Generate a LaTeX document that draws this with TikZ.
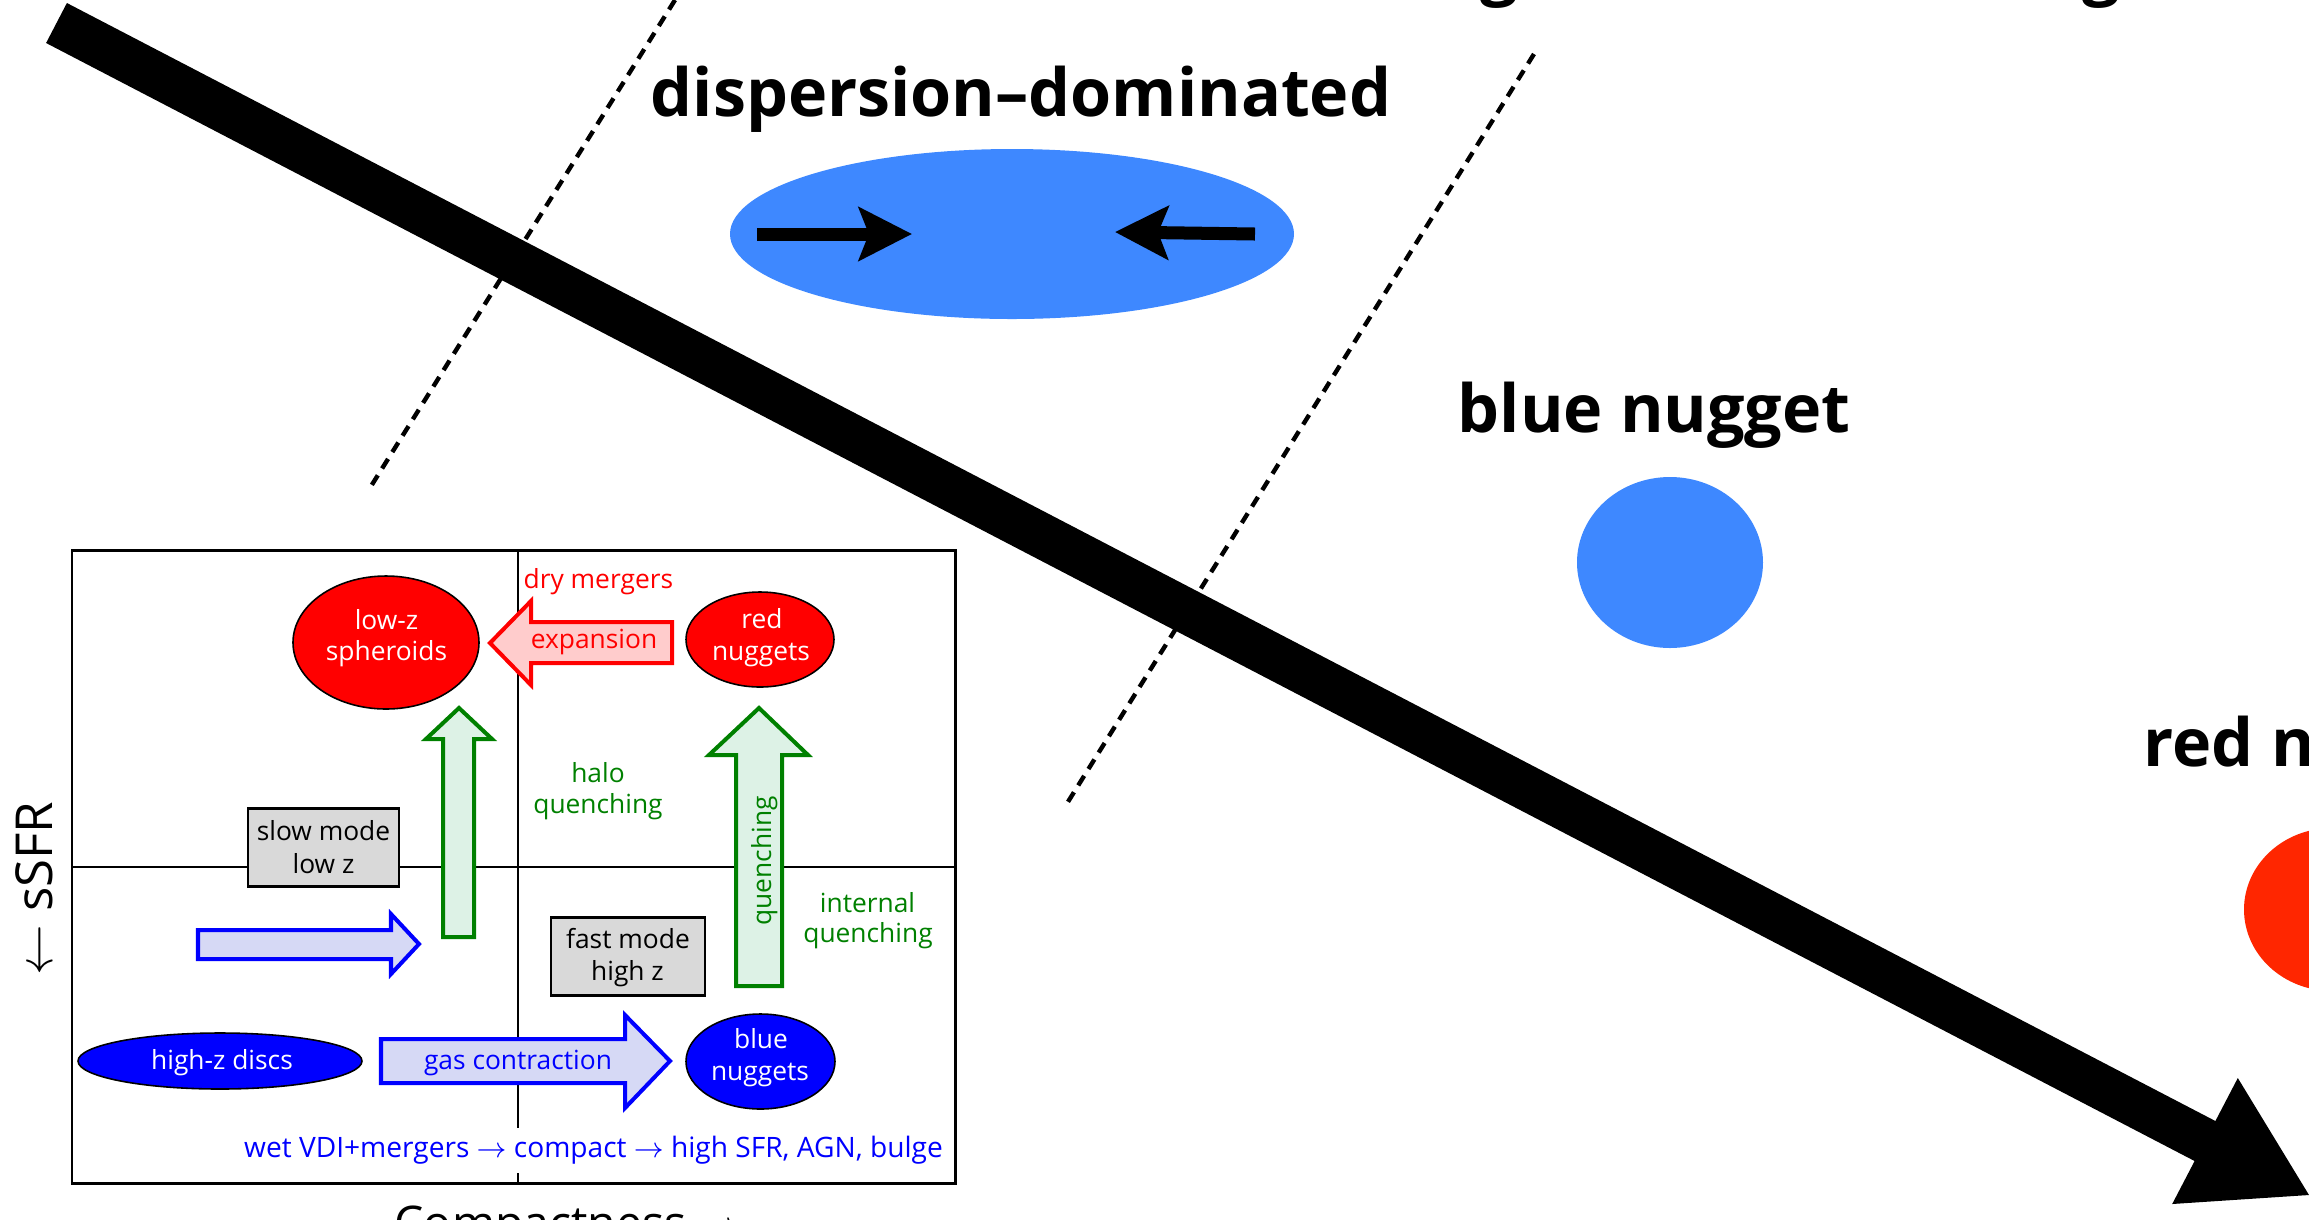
\documentclass[tikz,border=0pt]{standalone}
\usepackage{fontspec}
\setmainfont{Open Sans}
\usetikzlibrary{arrows.meta,shapes.geometric}
\definecolor{lblue}{RGB}{62,136,255}
\definecolor{nugred}{RGB}{255,38,0}
\definecolor{pinkf}{RGB}{255,204,204}
\definecolor{mintf}{RGB}{221,242,230}
\definecolor{lavf}{RGB}{214,217,245}
\definecolor{grayf}{RGB}{217,217,217}
\definecolor{dgreen}{RGB}{0,128,0}
\definecolor{iblue}{RGB}{0,0,255}
\definecolor{ired}{RGB}{255,0,0}
\begin{document}
\begin{tikzpicture}[x=0.1mm,y=-0.1mm,
  bigtxt/.style={font=\fontsize{18.9}{23}\selectfont\bfseries, inner sep=0, anchor=base west},
  itxt/.style={font=\fontsize{7.5}{9}\selectfont, inner sep=0, anchor=base},
  axtxt/.style={font=\fontsize{14.5}{17}\selectfont, inner sep=0},
  hollow/.style={line width=1.14pt, line join=miter, miter limit=10},
  iell/.style={ellipse, draw=black, line width=0.45pt, inner sep=0},
  bell/.style={ellipse, draw=none, inner sep=0},
  gbox/.style={rectangle, draw=black, fill=grayf, line width=0.85pt, inner sep=0},
  dashln/.style={line width=1.25pt, dash pattern=on 3.2pt off 2.3pt},
  pusharrow/.style={line width=3.7pt, -{Stealth[length=15.1pt,width=15.1pt,inset=2.85pt]}}
]
\useasboundingbox (0,0) rectangle (2309,1219);
\clip (0,0) rectangle (2309,1219);

% ---------- large scheme ----------
\coordinate (d1a) at (675,0);   \coordinate (d1b) at (368,491);
\coordinate (d2a) at (1534,54); \coordinate (d2b) at (1066,805);
\draw[dashln] (d1a) -- (d1b);
\draw[dashln] (d2a) -- (d2b);

\node[bell, fill=lblue, minimum width=56.4mm, minimum height=17mm] (disp) at (1012,234) {};
\coordinate (pl0) at (757,234); \coordinate (pl1) at (912,234);
\coordinate (pr0) at (1255,234); \coordinate (pr1) at (1115,232);
\draw[pusharrow] (pl0) -- (pl1);
\draw[pusharrow] (pr0) -- (pr1);

\node[bell, fill=lblue, minimum width=18.6mm, minimum height=17.1mm] (bnug) at (1670,562.5) {};
\node[bell, fill=nugred, minimum width=17.6mm, minimum height=16.3mm] (rnug) at (2332,909.5) {};

\node[bigtxt] (tdisp) at (650,116) {dispersion–dominated};
\node[bigtxt] (tbn) at (1457,432) {blue nugget};
\node[bigtxt] (trn) at (2143,766) {red nugget};
\node[bigtxt] (tg1) at (1480,-8) {g};
\node[bigtxt] (tg2) at (2082,-8) {g};

% big evolutionary arrow
\fill[black] (66.9,3.0) -- (2215.4,1121) -- (2237.8,1078) -- (2309,1195)
  -- (2172.2,1204) -- (2194.6,1161) -- (46.1,43.0) -- cycle;

% ---------- inset ----------
\draw[line width=0.57pt] (72,867) -- (955,867);
\draw[line width=0.57pt] (518,550) -- (518,1128);
\draw[line width=0.57pt] (518,1173) -- (518,1183);
\draw[line width=0.85pt] (72,550) rectangle (955,1183);

% hollow arrows
\draw[hollow, draw=ired, fill=pinkf] (672,622) -- (531,622) -- (531,601) -- (490,643)
  -- (531,685) -- (531,663) -- (672,663) -- cycle;
\draw[hollow, draw=dgreen, fill=mintf] (443,937) -- (443,739) -- (426,739) -- (459,708)
  -- (492,739) -- (474,739) -- (474,937) -- cycle;
\draw[hollow, draw=dgreen, fill=mintf] (736,986) -- (736,755) -- (709,755) -- (759,708)
  -- (808,755) -- (782,755) -- (782,986) -- cycle;
\draw[hollow, draw=iblue, fill=lavf] (198,930) -- (391,930) -- (391,914) -- (419,944)
  -- (391,974) -- (391,959) -- (198,959) -- cycle;
\draw[hollow, draw=iblue, fill=lavf] (381,1039) -- (625,1039) -- (625,1015) -- (670,1061)
  -- (625,1108) -- (625,1083) -- (381,1083) -- cycle;

% galaxies
\node[iell, fill=ired, minimum width=18.6mm, minimum height=13.3mm] (lowz) at (386,642.5) {};
\node[iell, fill=ired, minimum width=14.8mm, minimum height=9.5mm] (redn) at (760,639.5) {};
\node[iell, fill=iblue, minimum width=14.9mm, minimum height=9.5mm] (bluen) at (760.5,1061.5) {};
\node[iell, fill=iblue, minimum width=28.4mm, minimum height=5.6mm] (hzd) at (220,1061) {};

% mode boxes
\node[gbox, minimum width=15.1mm, minimum height=7.8mm] (slow) at (323.5,847) {};
\node[gbox, minimum width=15.4mm, minimum height=7.8mm] (fast) at (628,956) {};

% texts
\node[itxt, text=white] (t1) at (386.5,629) {low-z};
\node[itxt, text=white] (t2) at (386.5,660) {spheroids};
\node[itxt, text=white] (t3) at (762,628) {red};
\node[itxt, text=white] (t4) at (761,660) {nuggets};
\node[itxt, text=white] (t5) at (761,1048) {blue};
\node[itxt, text=white] (t6) at (760,1080) {nuggets};
\node[itxt, text=white] (t7) at (222,1069) {high-z discs};
\node[itxt, text=iblue] (t8) at (518,1069) {gas contraction};
\node[itxt] (t9) at (323.5,840) {slow mode};
\node[itxt] (t10) at (323.5,873) {low z};
\node[itxt] (t11) at (628,948) {fast mode};
\node[itxt] (t12) at (627.5,980) {high z};
\node[itxt, text=ired, anchor=base west] (t13) at (523,588) {dry mergers};
\node[itxt, text=ired] (t14) at (594,648) {expansion};
\node[itxt, text=dgreen] (t15) at (598,782) {halo};
\node[itxt, text=dgreen] (t16) at (598,813) {quenching};
\node[itxt, text=dgreen] (t17) at (867.5,912) {internal};
\node[itxt, text=dgreen] (t18) at (868,942) {quenching};
\node[itxt, text=dgreen, rotate=90] (t19) at (771,861) {quenching};
\node[itxt, text=iblue, font=\fontsize{8}{9.6}\selectfont] (t20) at (593.5,1157)
  {wet VDI+mergers $\rightarrow$ compact $\rightarrow$ high SFR, AGN, bulge};

% axis labels
\node[axtxt, rotate=90, anchor=base] (ssfr) at (52,888.5) {$\leftarrow$ sSFR};
\node[axtxt, anchor=base west, font=\fontsize{13.2}{16}\selectfont] (cmp) at (394,1239) {Compactness $\rightarrow$};
\end{tikzpicture}
\end{document}
